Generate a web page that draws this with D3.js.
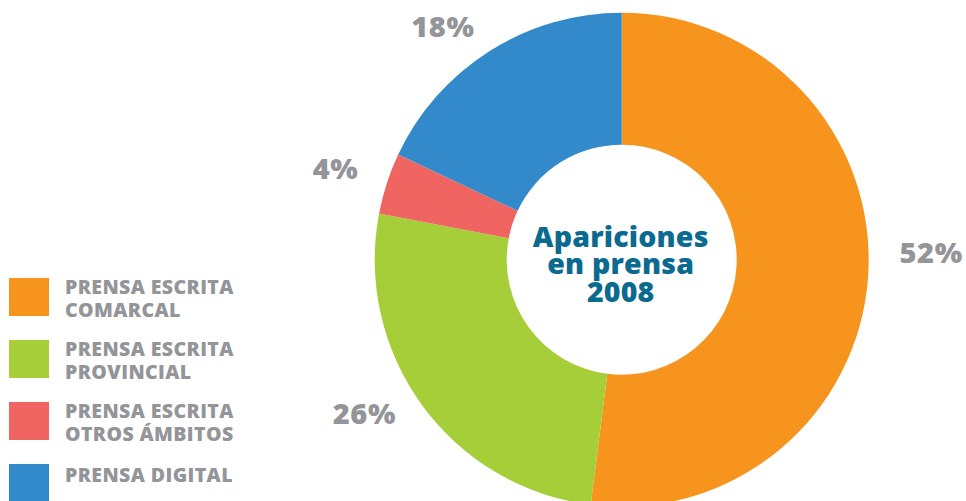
<!DOCTYPE html>
<html>
<head>
<meta charset="utf-8">
<script src="https://cdn.jsdelivr.net/npm/d3@7"></script>
<style>
  html, body { margin: 0; padding: 0; background: #fff; }
  svg { display: block; }
</style>
</head>
<body>
<svg id="chart" width="966" height="501"></svg>
<script>
// Media appearances by outlet type, 2008
const categories = [
  ["PRENSA ESCRITA", "COMARCAL"],
  ["PRENSA ESCRITA", "PROVINCIAL"],
  ["PRENSA ESCRITA", "OTROS ÁMBITOS"],
  ["PRENSA DIGITAL"]
];
const shares = [52, 26, 4, 18];
const valueLabels = ["52%", "26%", "4%", "18%"];
const titleLines = ["Apariciones", "en prensa", "2008"];

const colors = ["#F7941D", "#A6CE39", "#F06461", "#338ACB"];
const gray = "#939598";
const titleColor = "#0B6A8F";
const font = "'Open Sans', 'Noto Sans', sans-serif";

const svg = d3.select("#chart");
const cx = 621.7, cy = 259.7;
const outerR = 247, innerR = 115;

const pie = d3.pie().sort(null).value(d => d)(shares);
const arc = d3.arc().innerRadius(innerR).outerRadius(outerR);

const donut = svg.append("g").attr("transform", `translate(${cx},${cy})`);
donut.selectAll("path")
  .data(pie)
  .join("path")
  .attr("d", arc)
  .attr("fill", (d, i) => colors[i]);

// Percentage labels sit outside the ring, around each slice's mid-angle
const labelArc = d3.arc().innerRadius(302).outerRadius(302);
const labelNudge = [[8, -26], [-13, -24], [1, 2], [-17, 22]];
donut.selectAll("text.pct")
  .data(pie)
  .join("text")
  .attr("class", "pct")
  .attr("x", (d, i) => labelArc.centroid(d)[0] + labelNudge[i][0])
  .attr("y", (d, i) => labelArc.centroid(d)[1] + labelNudge[i][1])
  .attr("dy", "0.36em")
  .attr("text-anchor", "middle")
  .attr("font-family", font)
  .attr("font-weight", 800)
  .attr("font-size", 29)
  .attr("letter-spacing", 0.6)
  .attr("fill", gray)
  .text((d, i) => valueLabels[i]);

// Centre title, one text element per line
svg.append("g")
  .selectAll("text")
  .data(titleLines)
  .join("text")
  .attr("x", cx - 1)
  .attr("y", (d, i) => cy - 13 + i * 27.5)
  .attr("text-anchor", "middle")
  .attr("font-family", font)
  .attr("font-weight", 800)
  .attr("font-size", 28.5)
  .attr("letter-spacing", 0.2)
  .attr("fill", titleColor)
  .text(d => d);

// Legend
const legendY = d3.scaleLinear().domain([0, 1]).range([278, 340]);
const rows = svg.append("g")
  .selectAll("g")
  .data(categories)
  .join("g")
  .attr("transform", (d, i) => `translate(9,${legendY(i)})`);
rows.append("rect")
  .attr("width", 40)
  .attr("height", 38)
  .attr("fill", (d, i) => colors[i]);
rows.selectAll("text")
  .data(d => d.map((line, j) => ({ line, j, n: d.length })))
  .join("text")
  .attr("x", 56)
  .attr("y", d => d.n === 1 ? 17.7 : 15.5 + d.j * 23.4)
  .attr("font-family", font)
  .attr("font-weight", 800)
  .attr("font-size", 19.5)
  .attr("letter-spacing", 0.4)
  .attr("fill", gray)
  .text(d => d.line);
</script>
</body>
</html>
